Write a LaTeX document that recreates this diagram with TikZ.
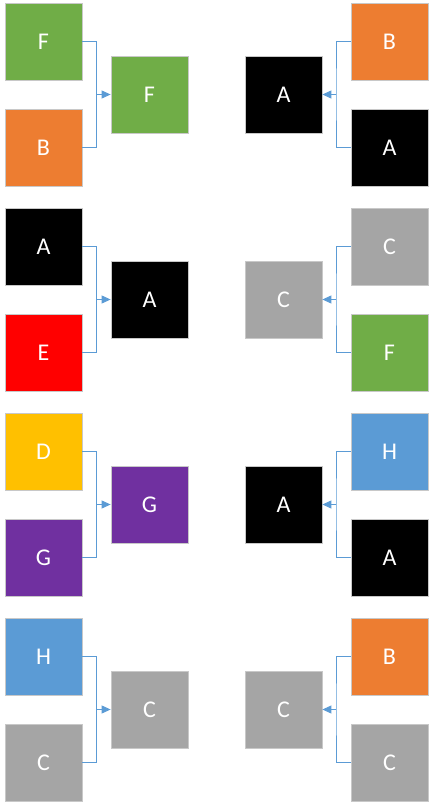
\documentclass[tikz,border=0pt]{standalone}
\usepackage{fontspec}
\setmainfont{Carlito}
\usetikzlibrary{arrows.meta}
\definecolor{cgreen}{HTML}{70AD47}
\definecolor{corange}{HTML}{ED7D31}
\definecolor{cblack}{HTML}{000000}
\definecolor{cred}{HTML}{FF0000}
\definecolor{cyellow}{HTML}{FFC000}
\definecolor{cpurple}{HTML}{7030A0}
\definecolor{cblue}{HTML}{5B9BD5}
\definecolor{cgray}{HTML}{A5A5A5}
\definecolor{cedge}{HTML}{C8C8C8}
\definecolor{cline}{HTML}{5B9BD5}
\tikzset{
  team/.style={draw=cedge, line width=0.8pt, minimum width=77pt, minimum height=77pt, inner sep=0pt,
    text=white, font=\fontsize{24}{24}\selectfont},
  bracket/.style={draw=cline, line width=1pt},
  winarrow/.style={draw=cline, line width=1pt, -{Triangle[length=9pt,width=8pt]}}
}
\begin{document}
\begin{tikzpicture}[x=1pt,y=-1pt]
\useasboundingbox (0,0) rectangle (434,810);
% group 1
\node[team, fill=cgreen] (l1t) at (43.5,41.5) {F};
\node[team, fill=corange] (l1b) at (43.5,147.5) {B};
\node[team, fill=cgreen] (l1w) at (149.5,94.5) {F};
\coordinate (jl1) at (96.5,94.5);
\draw[bracket] (l1t.east) -| (jl1) |- (l1b.east);
\draw[winarrow] (jl1) -- (l1w.west);
\node[team, fill=corange] (r1t) at (389.5,41.5) {B};
\node[team, fill=cblack] (r1b) at (389.5,147.5) {A};
\node[team, fill=cblack] (r1w) at (283.5,94.5) {A};
\coordinate (jr1) at (336,94.5);
\draw[bracket] (r1t.west) -| (jr1) |- (r1b.west);
\draw[winarrow] (jr1) -- (r1w.east);
% group 2
\node[team, fill=cblack] (l2t) at (43.5,246.5) {A};
\node[team, fill=cred] (l2b) at (43.5,352.5) {E};
\node[team, fill=cblack] (l2w) at (149.5,299.5) {A};
\coordinate (jl2) at (96.5,299.5);
\draw[bracket] (l2t.east) -| (jl2) |- (l2b.east);
\draw[winarrow] (jl2) -- (l2w.west);
\node[team, fill=cgray] (r2t) at (389.5,246.5) {C};
\node[team, fill=cgreen] (r2b) at (389.5,352.5) {F};
\node[team, fill=cgray] (r2w) at (283.5,299.5) {C};
\coordinate (jr2) at (336,299.5);
\draw[bracket] (r2t.west) -| (jr2) |- (r2b.west);
\draw[winarrow] (jr2) -- (r2w.east);
% group 3
\node[team, fill=cyellow] (l3t) at (43.5,451.5) {D};
\node[team, fill=cpurple] (l3b) at (43.5,557.5) {G};
\node[team, fill=cpurple] (l3w) at (149.5,504.5) {G};
\coordinate (jl3) at (96.5,504.5);
\draw[bracket] (l3t.east) -| (jl3) |- (l3b.east);
\draw[winarrow] (jl3) -- (l3w.west);
\node[team, fill=cblue] (r3t) at (389.5,451.5) {H};
\node[team, fill=cblack] (r3b) at (389.5,557.5) {A};
\node[team, fill=cblack] (r3w) at (283.5,504.5) {A};
\coordinate (jr3) at (336,504.5);
\draw[bracket] (r3t.west) -| (jr3) |- (r3b.west);
\draw[winarrow] (jr3) -- (r3w.east);
% group 4
\node[team, fill=cblue] (l4t) at (43.5,656.5) {H};
\node[team, fill=cgray] (l4b) at (43.5,762.5) {C};
\node[team, fill=cgray] (l4w) at (149.5,709.5) {C};
\coordinate (jl4) at (96.5,709.5);
\draw[bracket] (l4t.east) -| (jl4) |- (l4b.east);
\draw[winarrow] (jl4) -- (l4w.west);
\node[team, fill=corange] (r4t) at (389.5,656.5) {B};
\node[team, fill=cgray] (r4b) at (389.5,762.5) {C};
\node[team, fill=cgray] (r4w) at (283.5,709.5) {C};
\coordinate (jr4) at (336,709.5);
\draw[bracket] (r4t.west) -| (jr4) |- (r4b.west);
\draw[winarrow] (jr4) -- (r4w.east);
\end{tikzpicture}
\end{document}
